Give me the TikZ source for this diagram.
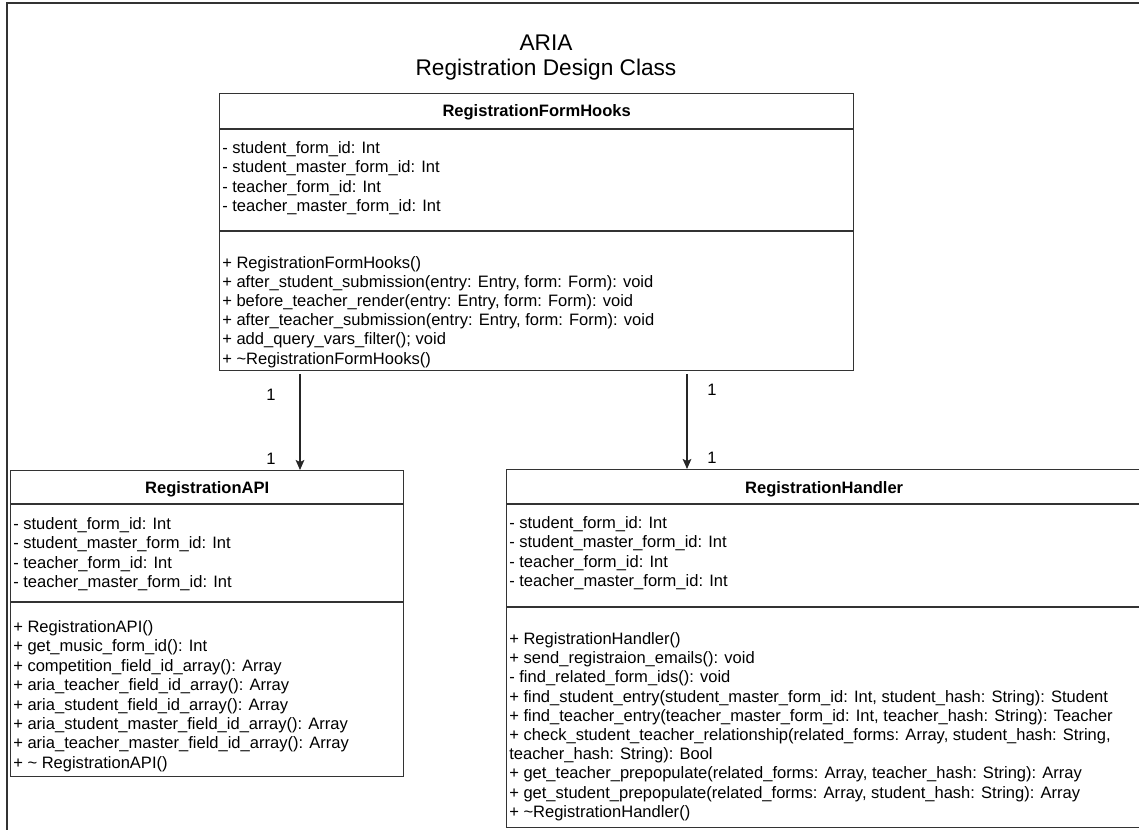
\documentclass[tikz,border=0pt]{standalone}
\usepackage{fontspec}
\setmainfont{Liberation Sans}
\usetikzlibrary{positioning, arrows.meta}

\begin{document}
\begin{tikzpicture}[
    x=0.75pt, y=-0.75pt,
    classbox/.style={rectangle, draw=black!80, line width=1pt, anchor=north west, inner sep=0pt},
    divider/.style={draw=black!80, line width=1pt},
    classname/.style={font=\fontsize{12.4}{14.5}\selectfont\bfseries, inner sep=0pt},
    member/.style={anchor=base west, inner sep=0pt, font=\fontsize{12.4}{14.5}\selectfont},
    mult/.style={font=\fontsize{12.4}{14.5}\selectfont, inner sep=0pt},
    heading/.style={font=\fontsize{17}{20}\selectfont, inner sep=0pt},
    assoc/.style={line width=1pt, draw=black!85, -{Stealth[length=7.5pt, width=6.5pt, inset=1.5pt]}}
  ]
  \useasboundingbox (0,0) rectangle (1139,829);
  \draw[line width=1.3pt, black!80] (7,3) rectangle (1200,900);

  % title
  \node[heading] (aria) at (546,43) {ARIA};
  \node[heading] (subtitle) at (546,70) {Registration Design Class};

  % RegistrationFormHooks
  \node[classbox, minimum width=475.5pt, minimum height=207.75pt] (hooks) at (219,93) {};
  \draw[divider] (hooks.west |- 0,129) -- (hooks.east |- 0,129);
  \draw[divider] (hooks.west |- 0,231) -- (hooks.east |- 0,231);
  \node[classname] (hooksname) at (hooks.north |- 0,112) {RegistrationFormHooks};
  \foreach \txt [count=\i] in {{- student\_form\_id: Int}, {- student\_master\_form\_id: Int},
      {- teacher\_form\_id: Int}, {- teacher\_master\_form\_id: Int}}
    \node[member] (hooksattr\i) at (222,{153.5+(\i-1)*19.3}) {\txt};
  \foreach \txt [count=\i] in {{+ RegistrationFormHooks()},
      {+ after\_student\_submission(entry: Entry, form: Form): void},
      {+ before\_teacher\_render(entry: Entry, form: Form): void},
      {+ after\_teacher\_submission(entry: Entry, form: Form): void},
      {+ add\_query\_vars\_filter(); void},
      {+ \textasciitilde RegistrationFormHooks()}}
    \node[member] (hooksop\i) at (222,{268.5+(\i-1)*19.1}) {\txt};

  % RegistrationAPI
  \node[classbox, minimum width=294.75pt, minimum height=229.5pt] (api) at (10,470) {};
  \draw[divider] (api.west |- 0,504) -- (api.east |- 0,504);
  \draw[divider] (api.west |- 0,602) -- (api.east |- 0,602);
  \node[classname] (apiname) at (api.north |- 0,489) {RegistrationAPI};
  \foreach \txt [count=\i] in {{- student\_form\_id: Int}, {- student\_master\_form\_id: Int},
      {- teacher\_form\_id: Int}, {- teacher\_master\_form\_id: Int}}
    \node[member] (apiattr\i) at (13,{529.5+(\i-1)*19.4}) {\txt};
  \foreach \txt [count=\i] in {{+ RegistrationAPI()},
      {+ get\_music\_form\_id(): Int},
      {+ competition\_field\_id\_array(): Array},
      {+ aria\_teacher\_field\_id\_array(): Array},
      {+ aria\_student\_field\_id\_array(): Array},
      {+ aria\_student\_master\_field\_id\_array(): Array},
      {+ aria\_teacher\_master\_field\_id\_array(): Array},
      {+ \textasciitilde{} RegistrationAPI()}}
    \node[member] (apiop\i) at (13,{632.5+(\i-1)*19.4}) {\txt};

  % RegistrationHandler
  \node[classbox, minimum width=476.25pt, minimum height=268.5pt] (handler) at (506,469) {};
  \draw[divider] (handler.west |- 0,504) -- (handler.east |- 0,504);
  \draw[divider] (handler.west |- 0,607) -- (handler.east |- 0,607);
  \node[classname] (handlername) at (handler.north |- 0,489) {RegistrationHandler};
  \foreach \txt [count=\i] in {{- student\_form\_id: Int}, {- student\_master\_form\_id: Int},
      {- teacher\_form\_id: Int}, {- teacher\_master\_form\_id: Int}}
    \node[member] (handlerattr\i) at (509,{528.5+(\i-1)*19.3}) {\txt};
  \foreach \txt [count=\i] in {{+ RegistrationHandler()},
      {+ send\_registraion\_emails(): void},
      {- find\_related\_form\_ids(): void},
      {+ find\_student\_entry(student\_master\_form\_id: Int, student\_hash: String): Student},
      {+ find\_teacher\_entry(teacher\_master\_form\_id: Int, teacher\_hash: String): Teacher},
      {+ check\_student\_teacher\_relationship(related\_forms: Array, student\_hash: String,},
      {teacher\_hash: String): Bool},
      {+ get\_teacher\_prepopulate(related\_forms: Array, teacher\_hash: String): Array},
      {+ get\_student\_prepopulate(related\_forms: Array, student\_hash: String): Array},
      {+ \textasciitilde RegistrationHandler()}}
    \node[member] (handlerop\i) at (509,{644.5+(\i-1)*19.2}) {\txt};

  % associations
  \coordinate (apiout) at (300,374);
  \coordinate (handlerout) at (687,374);
  \draw[assoc] (apiout) -- (apiout |- api.north)
    node[mult, pos=0.22, xshift=-21.75pt] (apisrc) {1}
    node[mult, pos=0.885, xshift=-21.75pt] (apidst) {1};
  \draw[assoc] (handlerout) -- (handlerout |- handler.north)
    node[mult, pos=0.17, xshift=18.75pt] (handlersrc) {1}
    node[mult, pos=0.885, xshift=18.75pt] (handlerdst) {1};
\end{tikzpicture}
\end{document}
